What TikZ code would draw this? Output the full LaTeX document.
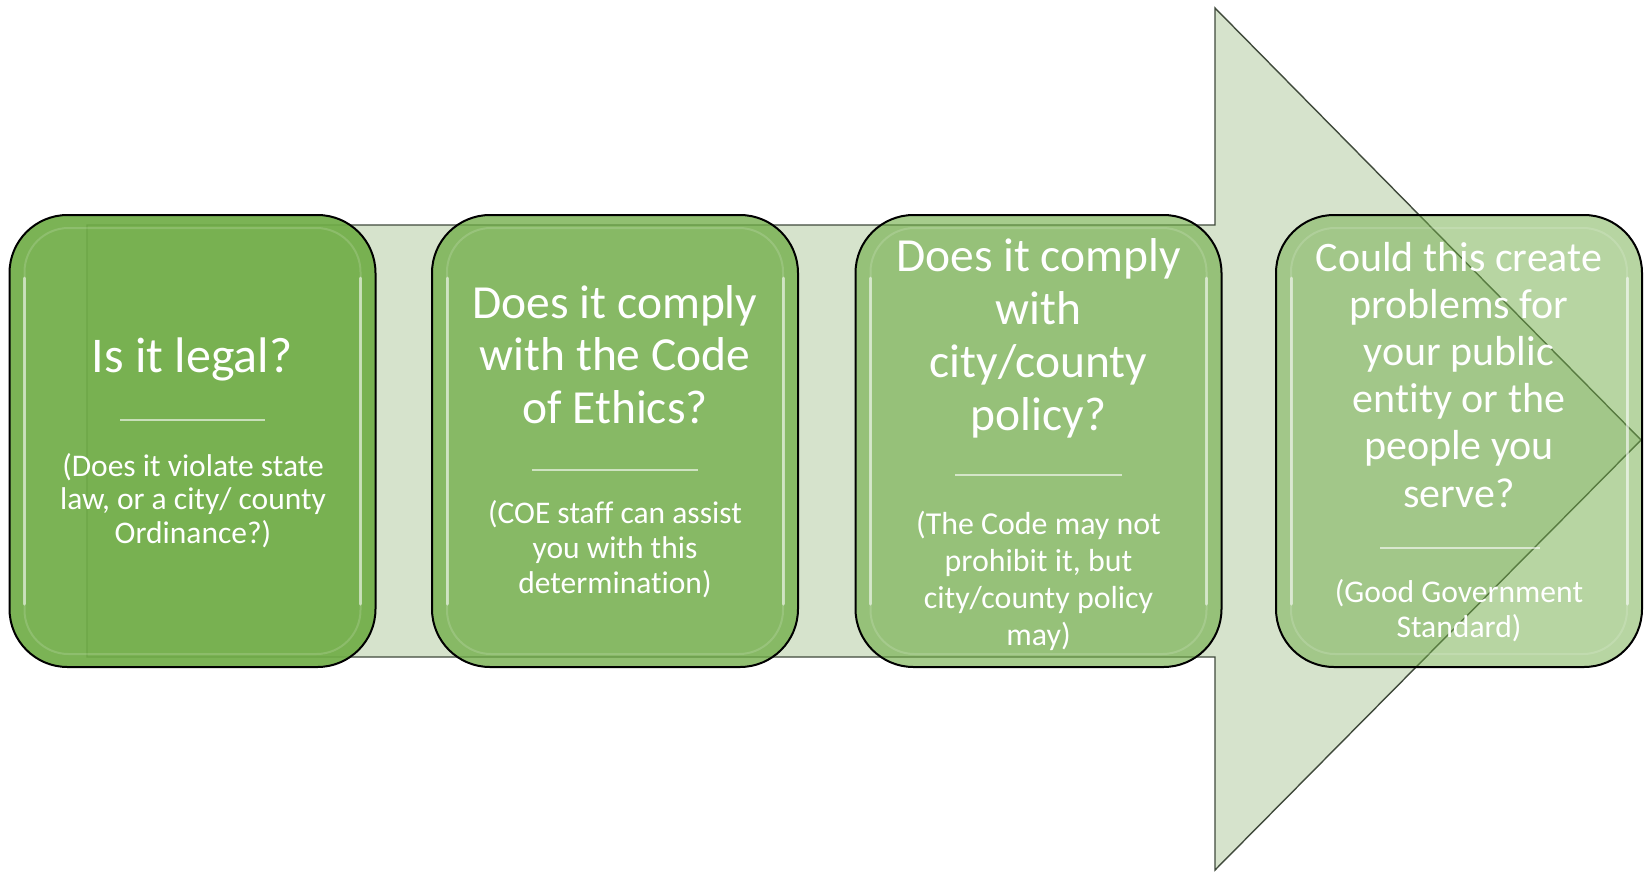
\documentclass[tikz,border=0pt]{standalone}
\usepackage{fontspec}
\setmainfont{Carlito}[Ligatures=NoCommon]
\definecolor{boxgreen}{HTML}{70AD47}
\definecolor{arrowfill}{HTML}{D6E3CC}
\definecolor{arrowline}{HTML}{404A3C}
\begin{document}
\begin{tikzpicture}[x=1pt,y=-1pt,
  stepbox/.style={rectangle, draw=black, line width=2pt, fill=boxgreen, rounded corners=58pt,
    minimum width=366pt, minimum height=452pt, inner sep=0pt},
  hl/.style={draw=white, line width=3pt, opacity=0.55, line cap=round},
  hlsoft/.style={draw=white, line width=2pt, opacity=0.15, rounded corners=44pt},
  title/.style={text=white, align=center, inner sep=0pt, anchor=base},
  rulel/.style={draw=white, opacity=0.6, line width=1.3pt}]
\useasboundingbox (0,0) rectangle (1650,873);
\fill[white] (0,0) rectangle (1650,873);
% big arrow
\draw[fill=arrowfill, draw=arrowline, line width=1.4pt]
  (87,225) -- (1215,225) -- (1215,8) -- (1641,440) -- (1215,870) -- (1215,657) -- (87,657) -- cycle;
% boxes
\node[stepbox, fill opacity=0.92] (box1) at (192.5,441) {};
\node[stepbox, fill opacity=0.77] (box2) at (615,441) {};
\node[stepbox, fill opacity=0.62] (box3) at (1038.5,441) {};
\node[stepbox, fill opacity=0.50] (box4) at (1459,441) {};
% bevel highlights
\foreach \b in {box1,box2,box3,box4}{
  \draw[hl] ([shift={(16pt,-64pt)}]\b.north west) -- ([shift={(16pt,64pt)}]\b.south west);
  \draw[hl] ([shift={(-16pt,-64pt)}]\b.north east) -- ([shift={(-16pt,64pt)}]\b.south east);
  \draw[hlsoft] ([shift={(16pt,-14pt)}]\b.north west) rectangle ([shift={(-16pt,14pt)}]\b.south east);
}
% box 1
\node[title, font=\fontsize{50}{55}\selectfont] (t1) at (192,372) {Is it legal?};
\draw[rulel] (120,420) -- (265,420);
\node[title, font=\fontsize{31.5}{33.5}\selectfont] (s1) at (193,543)
  {(Does it violate state\\law, or a city/ county\\Ordinance?)};
% box 2
\node[title, font=\fontsize{47.5}{52.5}\selectfont] (t2) at (615,423)
  {Does it comply\\with the Code\\of Ethics?};
\draw[rulel] (532,470) -- (698,470);
\node[title, font=\fontsize{31.5}{35}\selectfont] (s2) at (615,593)
  {(COE staff can assist\\you with this\\determination)};
% box 3
\node[title, font=\fontsize{47.5}{53}\selectfont] (t3) at (1038.5,430)
  {Does it comply\\with\\city/county\\policy?};
\draw[rulel] (955,475) -- (1122,475);
\node[title, font=\fontsize{31.9}{37}\selectfont] (s3) at (1038.5,645)
  {(The Code may not\\prohibit it, but\\city/county policy\\may)};
% box 4
\node[title, font=\fontsize{42}{47.2}\selectfont] (t4) at (1459,507)
  {Could this create\\problems for\\your public\\entity or the\\people you\\serve?};
\draw[rulel] (1380,548) -- (1540,548);
\node[title, font=\fontsize{31.6}{35}\selectfont] (s4) at (1459,637)
  {(Good Government\\Standard)};
\end{tikzpicture}
\end{document}
